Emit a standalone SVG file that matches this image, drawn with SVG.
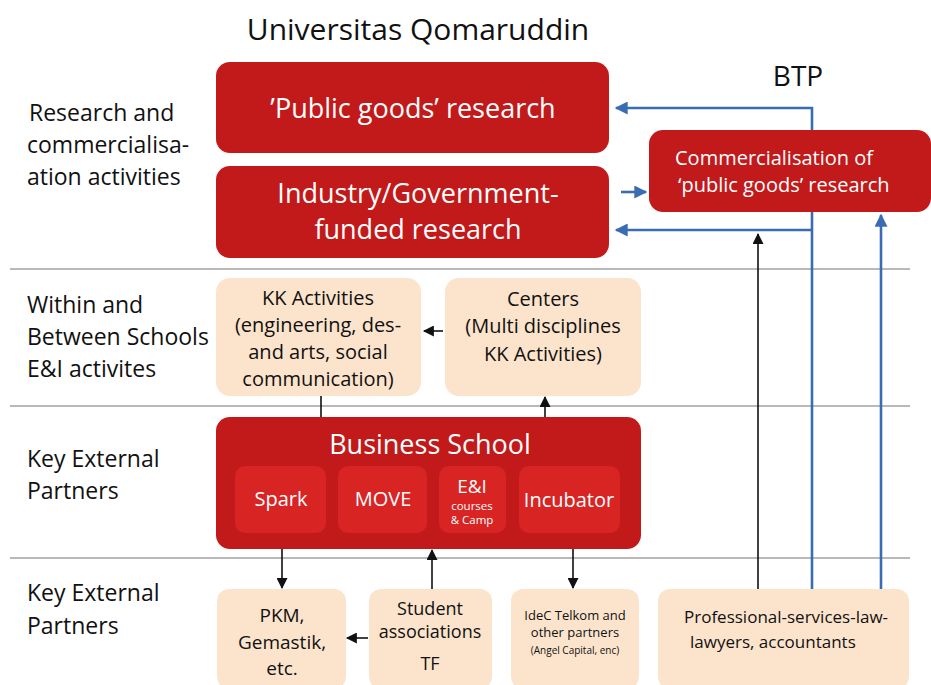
<svg xmlns="http://www.w3.org/2000/svg" width="931" height="685" viewBox="0 0 931 685">
<defs>
<style>
text{font-family:"Open Sans","Noto Sans","DejaVu Sans",sans-serif;}
.lbl{font-size:23px;fill:#111;}
.red{fill:#c21a1b;}
.sub{fill:#d92424;}
.peach{fill:#fce4cc;}
.wt{fill:#fff;text-anchor:middle;}
.bk{fill:#111;text-anchor:middle;}
.grid{stroke:#b9b9b9;stroke-width:2;}
.blk{stroke:#111;stroke-width:1.6;fill:none;}
.blu{stroke:#3a6cb3;stroke-width:2.6;fill:none;}
</style>
<marker id="ab" viewBox="0 0 10 10" refX="9" refY="5" markerWidth="12" markerHeight="11" markerUnits="userSpaceOnUse" orient="auto"><path d="M0,0L10,5L0,10z" fill="#111"/></marker>
<marker id="au" viewBox="0 0 10 10" refX="9" refY="5" markerWidth="14" markerHeight="13" markerUnits="userSpaceOnUse" orient="auto"><path d="M0,0L10,5L0,10z" fill="#3a6cb3"/></marker>
</defs>
<rect width="931" height="685" fill="#fff"/>
<text x="418" y="40" font-size="30" class="bk">Universitas Qomaruddin</text>
<text x="798" y="86" font-size="28" class="bk">BTP</text>
<g id="grid">
<line x1="10" y1="269" x2="910" y2="269" class="grid"/>
<line x1="10" y1="406" x2="910" y2="406" class="grid"/>
<line x1="10" y1="558" x2="910" y2="558" class="grid"/>
</g>
<g id="labels">
<text class="lbl" x="29" y="121">Research and</text>
<text class="lbl" x="27" y="153">commercialisa-</text>
<text class="lbl" x="27" y="185">ation activities</text>
<text class="lbl" x="27" y="313">Within and</text>
<text class="lbl" x="27" y="345">Between Schools</text>
<text class="lbl" x="27" y="377">E&amp;I activites</text>
<text class="lbl" x="27" y="467">Key External</text>
<text class="lbl" x="27" y="499">Partners</text>
<text class="lbl" x="27" y="601">Key External</text>
<text class="lbl" x="27" y="634">Partners</text>
</g>
<g id="connectors">
<polyline points="812,589 812,108 616,108" class="blu" marker-end="url(#au)"/>
<polyline points="812,230 616,230" class="blu" marker-end="url(#au)"/>
<line x1="621" y1="192" x2="646" y2="192" class="blu" marker-end="url(#au)"/>
<line x1="881" y1="589" x2="881" y2="215" class="blu" marker-end="url(#au)"/>
<line x1="758" y1="589" x2="758" y2="234" class="blk" marker-end="url(#ab)"/>
<line x1="443" y1="331" x2="424" y2="331" class="blk" marker-end="url(#ab)"/>
<line x1="321" y1="396" x2="321" y2="417" class="blk"/>
<line x1="545" y1="417" x2="545" y2="397" class="blk" marker-end="url(#ab)"/>
<line x1="282" y1="533" x2="282" y2="588" class="blk" marker-end="url(#ab)"/>
<line x1="573" y1="533" x2="573" y2="588" class="blk" marker-end="url(#ab)"/>
<line x1="432" y1="589" x2="432" y2="550" class="blk" marker-end="url(#ab)"/>
<line x1="368" y1="638" x2="347" y2="638" class="blk" marker-end="url(#ab)"/>
</g>
<g id="public">
<rect x="216" y="62" width="393" height="91" rx="14" class="red"/>
<text x="413" y="118" font-size="27" class="wt">’Public goods’ research</text>
</g>
<g id="industry">
<rect x="216" y="166" width="393" height="92" rx="14" class="red"/>
<text x="418" y="203" font-size="27" class="wt">Industry/Government-</text>
<text x="418" y="239" font-size="27" class="wt">funded research</text>
</g>
<g id="commercialisation">
<rect x="649" y="130" width="282" height="82" rx="14" class="red"/>
<text x="675" y="165" font-size="20" fill="#fff">Commercialisation of</text>
<text x="678" y="192" font-size="20" fill="#fff">‘public goods’ research</text>
</g>
<g id="kk">
<rect x="216" y="278" width="205" height="118" rx="14" class="peach"/>
<text x="318" y="305" font-size="20" class="bk">KK Activities</text>
<text x="318" y="332" font-size="20" class="bk">(engineering, des-</text>
<text x="318" y="359" font-size="20" class="bk">and arts, social</text>
<text x="318" y="386" font-size="20" class="bk">communication)</text>
</g>
<g id="centers">
<rect x="445" y="278" width="196" height="118" rx="14" class="peach"/>
<text x="543" y="306" font-size="20" class="bk">Centers</text>
<text x="543" y="333" font-size="20" class="bk">(Multi disciplines</text>
<text x="543" y="361" font-size="20" class="bk">KK Activities)</text>
</g>
<g id="business">
<rect x="216" y="417" width="425" height="132" rx="14" class="red"/>
<text x="430" y="454" font-size="27" class="wt">Business School</text>
<rect x="235" y="466" width="91" height="67" rx="10" class="sub"/>
<text x="281" y="506" font-size="20" class="wt">Spark</text>
<rect x="338" y="466" width="89" height="67" rx="10" class="sub"/>
<text x="383" y="506" font-size="20" class="wt">MOVE</text>
<rect x="439" y="466" width="67" height="67" rx="10" class="sub"/>
<text x="472" y="493" font-size="19" class="wt">E&amp;I</text>
<text x="472" y="510" font-size="11.5" class="wt">courses</text>
<text x="472" y="524" font-size="11.5" class="wt">&amp; Camp</text>
<rect x="519" y="466" width="101" height="67" rx="10" class="sub"/>
<text x="569" y="507" font-size="20" class="wt">Incubator</text>
</g>
<g id="pkm">
<rect x="217" y="589" width="129" height="100" rx="12" class="peach"/>
<text x="282" y="622" font-size="19" class="bk">PKM,</text>
<text x="282" y="649" font-size="19" class="bk">Gemastik,</text>
<text x="282" y="675" font-size="19" class="bk">etc.</text>
</g>
<g id="student">
<rect x="369" y="589" width="123" height="100" rx="12" class="peach"/>
<text x="430" y="615" font-size="18" class="bk">Student</text>
<text x="430" y="638" font-size="18" class="bk">associations</text>
<text x="430" y="670" font-size="18" class="bk">TF</text>
</g>
<g id="idec">
<rect x="511" y="589" width="128" height="100" rx="12" class="peach"/>
<text x="575" y="620" font-size="13" class="bk">IdeC Telkom and</text>
<text x="575" y="637" font-size="13" class="bk">other partners</text>
<text x="575" y="654" font-size="10" class="bk">(Angel Capital, enc)</text>
</g>
<g id="professional">
<rect x="658" y="589" width="251" height="100" rx="12" class="peach"/>
<text x="684" y="623" font-size="17" fill="#111">Professional-services-law-</text>
<text x="690" y="648" font-size="17" fill="#111">lawyers, accountants</text>
</g>
</svg>
